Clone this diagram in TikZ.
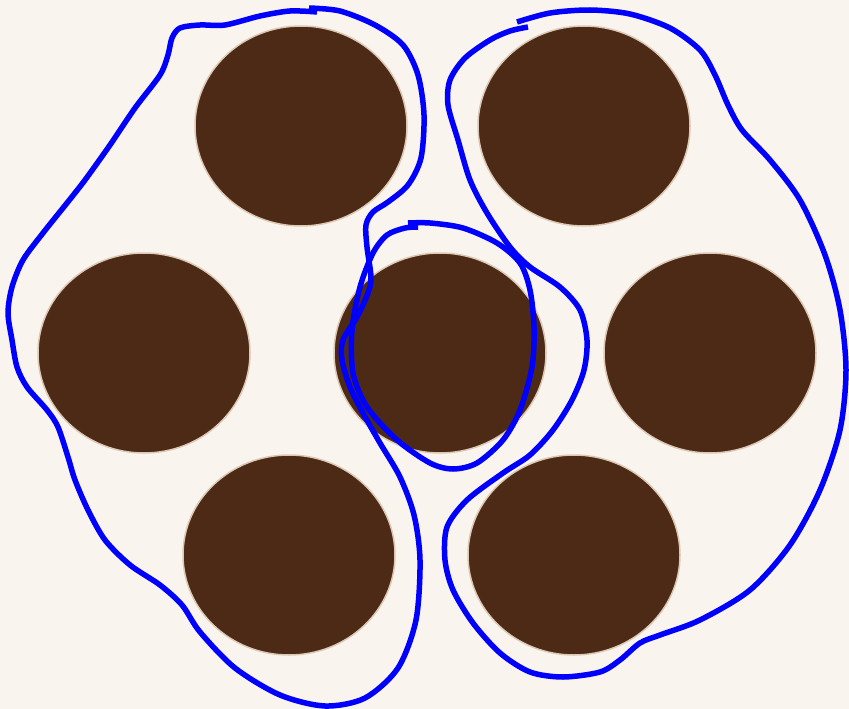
\documentclass[tikz,border=0pt]{standalone}
\usetikzlibrary{shapes.geometric}
\definecolor{bgcol}{RGB}{250,244,238}
\definecolor{browncol}{RGB}{76,42,22}
\definecolor{tancol}{RGB}{220,200,180}
\tikzset{
  disc/.style={ellipse, fill=browncol, draw=tancol, line width=1.5pt, minimum width=212pt, minimum height=200pt, inner sep=0pt},
  loopline/.style={draw=blue, line width=5.5pt, line join=round}
}
\begin{document}
\begin{tikzpicture}[x=1pt,y=-1pt]
\fill[bgcol] (0,0) rectangle (849,709);
\useasboundingbox (0,0) rectangle (849,709);
\node[disc] (d1) at (301,126) {};
\node[disc] (d2) at (584,126) {};
\node[disc] (d3) at (144,353) {};
\node[disc] (d4) at (440,353) {};
\node[disc] (d5) at (710,353) {};
\node[disc] (d6) at (289,555) {};
\node[disc] (d7) at (574,555) {};
% left loop
\draw[loopline] plot[smooth] coordinates {(309,8) (340,11) (375,25) (403,45) (418,75) (424,115) (421,158) (408,185) (388,202) (373,212) (366,225) (367,247) (371,277) (368,293) (357,317) (343,340) (342,360) (350,387) (363,413) (380,443) (400,477) (414,515) (420,560) (416,620) (398,668) (365,698) (325,706) (280,695) (235,668) (200,632) (182,605) (160,585) (130,565) (105,540) (88,510) (75,480) (68,457) (58,427) (47,410) (27,387) (17,367) (12,340) (8,313) (12,287) (23,260) (43,233) (67,203) (85,180) (110,145) (135,108) (160,75) (168,55) (172,38) (180,28) (200,25) (225,25) (260,16) (290,11) (317,12)};
% right loop
\draw[loopline] plot[smooth] coordinates {(517,22) (550,13) (590,10) (630,14) (670,28) (700,50) (715,75) (728,105) (742,130) (770,160) (800,200) (825,255) (840,310) (846,370) (840,430) (820,490) (790,545) (750,590) (700,620) (660,635) (640,643) (620,660) (600,672) (563,677) (530,672) (500,653) (473,623) (453,590) (445,560) (447,527) (467,500) (503,473) (530,455) (553,430) (572,400) (584,370) (587,340) (580,310) (560,287) (530,267) (510,247) (487,213) (470,180) (458,140) (448,105) (450,80) (465,58) (490,40) (510,31) (528,27)};
% middle loop
\draw[loopline] plot[smooth] coordinates {(408,223) (430,223) (463,228) (497,243) (520,263) (530,290) (534,327) (532,367) (520,410) (503,440) (477,463) (453,469) (430,463) (397,440) (367,407) (353,373) (352,330) (360,287) (373,253) (387,235) (405,228) (418,227)};
\end{tikzpicture}
\end{document}
